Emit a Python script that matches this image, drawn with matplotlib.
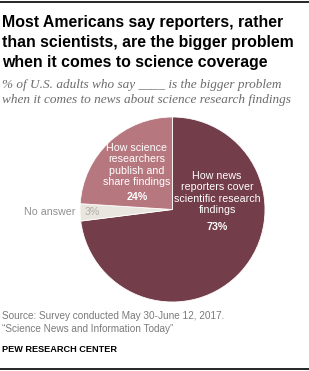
import matplotlib.pyplot as plt
from matplotlib.lines import Line2D
from matplotlib import font_manager

# data
labels = ["How news\nreporters cover\nscientific research\nfindings", "No answer",
          "How science\nresearchers\npublish and\nshare findings"]
values = [73, 3, 24]
colors = ["#733d4a", "#e9e6df", "#b7777f"]

W, H = 309, 371
fig = plt.figure(figsize=(W / 100, H / 100), dpi=100)

def fx(px):
    return px / W

def fy(py):
    return 1 - py / H

names = {f.name for f in font_manager.fontManager.ttflist}
lab_font = "Liberation Sans Narrow" if "Liberation Sans Narrow" in names else "Liberation Sans"
lab_size = 8.6 if lab_font == "Liberation Sans Narrow" else 7.7

# rules top and bottom
fig.add_artist(Line2D([0, 1], [fy(2), fy(2)], color="black", lw=1.2))
fig.add_artist(Line2D([0, 1], [fy(369), fy(369)], color="black", lw=1.2))

# title
title = "Most Americans say reporters, rather\nthan scientists, are the bigger problem\nwhen it comes to science coverage"
for i, line in enumerate(title.split("\n")):
    fig.text(fx(2), fy(22 + 20 * i), line, ha="left", va="center", fontsize=11.4,
             fontweight="bold", family="Liberation Sans")
sub = "% of U.S. adults who say ____ is the bigger problem\nwhen it comes to news about science research findings"
for i, line in enumerate(sub.split("\n")):
    fig.text(fx(2), fy(85 + 15 * i), line, ha="left", va="center", fontsize=9.5, style="italic",
             family="Liberation Serif", color="#6b6b6b")

# pie
cx, cy, r = 172.5, 209.5, 92.5
ax = fig.add_axes([fx(cx - r), fy(cy + r), 2 * r / W, 2 * r / H])
ax.pie(values, colors=colors, startangle=90, counterclock=False,
       wedgeprops=dict(edgecolor="white", linewidth=0.6))
ax.set_xlim(-1, 1)
ax.set_ylim(-1, 1)
ax.set_aspect("auto")
ax.axis("off")

fig.text(fx(217), fy(193), labels[0], ha="center", va="center", fontsize=lab_size,
         color="white", family=lab_font, linespacing=1.2)
fig.text(fx(217), fy(227), f"{values[0]}%", ha="center", va="center", fontsize=lab_size,
         color="white", family=lab_font, fontweight="bold")
fig.text(fx(137), fy(165), labels[2], ha="center", va="center", fontsize=lab_size,
         color="white", family=lab_font, linespacing=1.2)
fig.text(fx(137), fy(197), f"{values[2]}%", ha="center", va="center", fontsize=lab_size,
         color="white", family=lab_font, fontweight="bold")
fig.text(fx(75), fy(212), labels[1], ha="right", va="center", fontsize=lab_size,
         color="#909090", family=lab_font)
fig.text(fx(92), fy(212), f"{values[1]}%", ha="center", va="center", fontsize=lab_size,
         color="#b0aca6", family=lab_font)

# footer
fig.text(fx(2), fy(316), "Source: Survey conducted May 30-June 12, 2017.", ha="left", va="center",
         fontsize=7.2, color="#7a7a7a", family="Liberation Sans")
fig.text(fx(2), fy(329), "\u201cScience News and Information Today\u201d", ha="left", va="center",
         fontsize=7.2, color="#7a7a7a", family="Liberation Sans")
fig.text(fx(2), fy(349), "PEW RESEARCH CENTER", ha="left", va="center", fontsize=6.6,
         fontweight="bold", color="#000000", family="Liberation Sans")

fig.savefig("out.png", dpi=100)
